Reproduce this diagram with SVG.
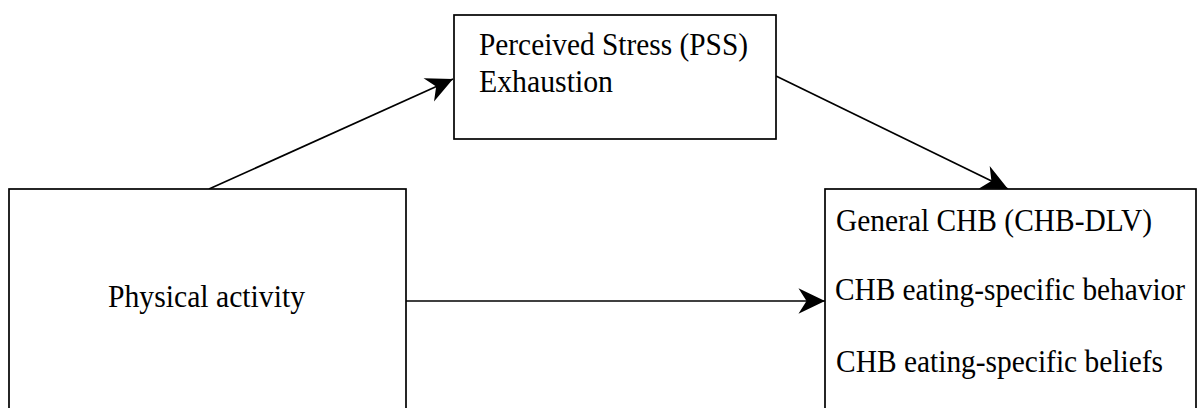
<svg xmlns="http://www.w3.org/2000/svg" width="1197" height="408" viewBox="0 0 1197 408">
<style>
.box{fill:#fff;stroke:#000;stroke-width:1.7}
.lbl{font-family:"Liberation Serif","Times New Roman",serif;font-size:31px;fill:#000}
.conn{stroke:#000;stroke-width:1.7;fill:none}
</style>
<defs>
<marker id="arr" markerUnits="userSpaceOnUse" markerWidth="30" markerHeight="30" viewBox="-24 -12 26 24" refX="0" refY="0" orient="auto">
<path d="M-23,-11 L0,0 L-23,11 L-16,0 Z" fill="#000"/>
</marker>
</defs>
<rect width="1197" height="408" fill="#fff"/>
<g id="connectors">
<line class="conn" x1="209" y1="189" x2="453" y2="79" marker-end="url(#arr)"/>
<line class="conn" x1="776" y1="76" x2="1008" y2="189" marker-end="url(#arr)"/>
<line class="conn" x1="406" y1="301" x2="825" y2="301" marker-end="url(#arr)"/>
</g>
<g id="node-pss">
<rect class="box" x="454" y="15" width="322" height="124"/>
<text class="lbl" x="479" y="55" textLength="269" lengthAdjust="spacingAndGlyphs">Perceived Stress (PSS)</text>
<text class="lbl" x="479" y="92" textLength="134" lengthAdjust="spacingAndGlyphs">Exhaustion</text>
</g>
<g id="node-pa">
<rect class="box" x="9" y="189" width="397" height="240"/>
<text class="lbl" x="108" y="307" textLength="197" lengthAdjust="spacingAndGlyphs">Physical activity</text>
</g>
<g id="node-chb">
<rect class="box" x="825" y="189" width="371" height="240"/>
<text class="lbl" x="836" y="231" textLength="316" lengthAdjust="spacingAndGlyphs">General CHB (CHB-DLV)</text>
<text class="lbl" x="835" y="300" textLength="350" lengthAdjust="spacingAndGlyphs">CHB eating-specific behavior</text>
<text class="lbl" x="836" y="372" textLength="327" lengthAdjust="spacingAndGlyphs">CHB eating-specific beliefs</text>
</g>
</svg>
